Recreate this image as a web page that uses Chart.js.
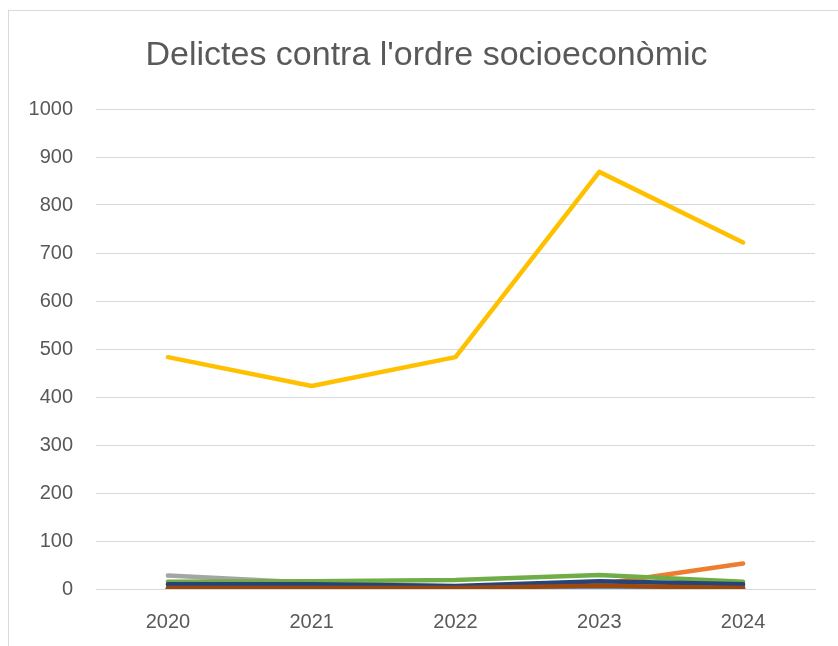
<!DOCTYPE html>
<html><head><meta charset="utf-8">
<script src="https://cdn.jsdelivr.net/npm/chart.js@4"></script>
<style>html,body{margin:0;padding:0;background:#fff}#wrap{width:838px;height:646px;position:relative}</style>
</head><body><div id="wrap"><canvas id="c" width="838" height="646"></canvas></div>
<script>
const titleText = "Delictes contra l'ordre socioeconòmic";
const years = ['2020','2021','2022','2023','2024'];
const serieBlau = [0, 0, 0, 0, 0];
const serieTaronja = [2, 3, 2, 10, 53];
const serieGris = [28, 13, 5, 8, 5];
const serieGroc = [483, 423, 483, 869, 722];
const serieBlauClar = [0, 0, 0, 0, 0];
const serieVerd = [15, 16, 19, 29, 15];
const serieBlauFosc = [10, 10, 6, 16, 10];
const serieMarro = [2, 2, 2, 7, 2];
const yTicks = [0,100,200,300,400,500,600,700,800,900,1000];

const seriesList = [
  {d: serieBlau, c: '#4472C4'},
  {d: serieTaronja, c: '#ED7D31'},
  {d: serieGris, c: '#A5A5A5'},
  {d: serieGroc, c: '#FFC000'},
  {d: serieBlauClar, c: '#5B9BD5'},
  {d: serieVerd, c: '#70AD47'},
  {d: serieBlauFosc, c: '#264478'},
  {d: serieMarro, c: '#9E480E'}
];
const n = seriesList.length;
const datasets = seriesList.map((s, i) => ({
  data: s.d, borderColor: s.c, backgroundColor: s.c,
  borderWidth: 4.5, pointRadius: 0, tension: 0,
  borderCapStyle: 'round', borderJoinStyle: 'round',
  order: n - i
}));

const framePlugin = {
  id: 'frame',
  beforeDraw(chart) {
    const ctx = chart.ctx;
    ctx.save();
    ctx.fillStyle = '#fff';
    ctx.fillRect(0, 0, chart.width, chart.height);
    ctx.strokeStyle = '#d9d9d9';
    ctx.lineWidth = 1;
    ctx.strokeRect(8.5, 10.5, 900, 700);
    ctx.restore();
  },
  afterDraw(chart) {
    const ctx = chart.ctx;
    ctx.save();
    ctx.fillStyle = '#595959';
    ctx.font = "normal 34px 'Liberation Sans'";
    ctx.textAlign = 'center';
    ctx.textBaseline = 'middle';
    ctx.fillText(titleText, 426.5, 55.4);
    ctx.restore();
  }
};

new Chart(document.getElementById('c'), {
  type: 'line',
  data: { labels: years, datasets },
  plugins: [framePlugin],
  options: {
    responsive: false, animation: false,
    layout: { padding: { left: 0, right: 23, top: 109, bottom: 0 } },
    plugins: {
      legend: { display: false },
      tooltip: { enabled: false },
      title: { display: false }
    },
    scales: {
      x: {
        offset: true,
        grid: { display: false, drawTicks: false },
        border: { display: true, color: '#d9d9d9', width: 1 },
        ticks: { color: '#595959', font: { family: 'Liberation Sans', size: 20 }, padding: 21 },
        afterFit(s) { s.height = 57; }
      },
      y: {
        min: 0, max: 1000,
        afterBuildTicks(s) { s.ticks = yTicks.map(v => ({ value: v })); },
        grid: { color: '#d9d9d9', drawTicks: false },
        border: { display: false },
        ticks: { color: '#595959', font: { family: 'Liberation Sans', size: 20 }, padding: 23,
                 callback: (v) => String(v) },
        afterFit(s) { s.width = 96; }
      }
    }
  }
});
</script></body></html>
